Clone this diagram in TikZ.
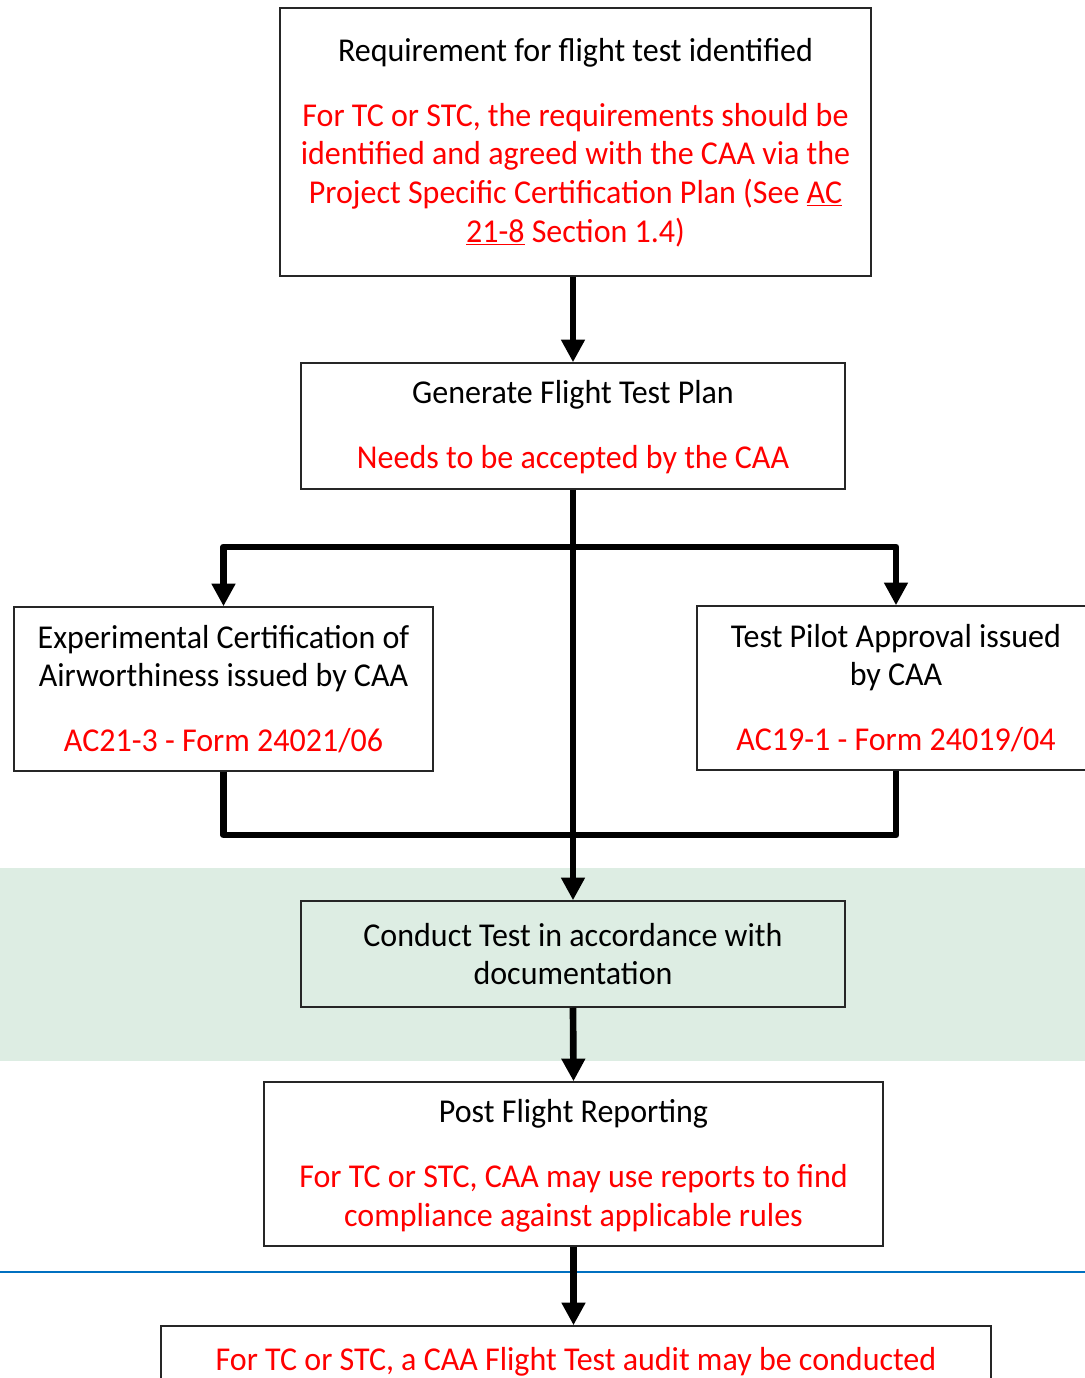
\documentclass[tikz,border=0pt]{standalone}
\usepackage{fontspec}
\setmainfont{Carlito}[FakeStretch=0.96]
\usetikzlibrary{arrows.meta}
\definecolor{bandgreen}{RGB}{221,237,227}
\definecolor{lineblue}{RGB}{0,112,192}
\newcommand\boxfont{\fontsize{25}{29}\selectfont}
\newcommand\shiftlines[2]{\raisebox{#1}[\height][\depth]{\begin{tabular}{@{}c@{}}#2\end{tabular}}}
\tikzset{
  flowbox/.style={draw=black!85, line width=1.1pt, fill=white, align=center, inner sep=0pt, font=\boxfont},
  flowline/.style={line width=5pt, line join=round},
  flowarr/.style={flowline, -{Triangle[width=17pt,length=17pt]}},
}
\begin{document}
\begin{tikzpicture}[x=0.75pt,y=-0.75pt]
\useasboundingbox (0,0) rectangle (1085,1378);
% band and blue line
\fill[bandgreen] (0,868) rectangle (1085,1061);
\draw[lineblue, line width=2.2pt] (0,1272) -- (1085,1272);
% boxes
\node[flowbox, minimum width=443.25pt, minimum height=201pt] (top) at (575.5,142)
 {\shiftlines{-1.5pt}{Requirement for flight test identified\\[19.75pt]
  \color{red}For TC or STC, the requirements should be\\
  \color{red}identified and agreed with the CAA via the\\
  \color{red}Project Specific Certification Plan (See \underline{AC}\\
  \color{red}\underline{21-8} Section 1.4)}};
\node[flowbox, minimum width=408pt, minimum height=94.5pt] (plan) at (573,426)
 {\shiftlines{-2pt}{Generate Flight Test Plan\\[19.75pt]
  \color{red}Needs to be accepted by the CAA}};
\node[flowbox, minimum width=314.25pt, minimum height=123pt] (left) at (223.5,689)
 {Experimental Certification of\\
  Airworthiness issued by CAA\\[19.75pt]
  \color{red}AC21-3 - Form 24021/06};
\node[flowbox, minimum width=298.5pt, minimum height=123pt] (right) at (896,688)
 {Test Pilot Approval issued\\
  by CAA\\[19.75pt]
  \color{red}AC19-1 - Form 24019/04};
\node[flowbox, fill=bandgreen, minimum width=408pt, minimum height=79.5pt] (conduct) at (573,954)
 {Conduct Test in accordance with\\
  documentation};
\node[flowbox, minimum width=464.25pt, minimum height=123pt] (post) at (573.5,1164)
 {\shiftlines{-2.25pt}{Post Flight Reporting\\[19.75pt]
  \color{red}For TC or STC, CAA may use reports to find\\
  \color{red}compliance against applicable rules}};
\node[flowbox, minimum width=622.5pt, minimum height=51pt] (audit) at (576,1360)
 {\shiftlines{-2.25pt}{\color{red}For TC or STC, a CAA Flight Test audit may be conducted}};
% connectors
\coordinate (fork) at (573,547);
\coordinate (join) at (573,835);
\draw[flowarr] (top.south -| plan.north) -- (plan.north);
\draw[flowarr] (plan.south) -- (conduct.north);
\draw[flowarr] (fork) -| (left.north);
\draw[flowarr] (fork) -| (right.north);
\draw[flowline] (left.south) |- (join) -| (right.south);
\draw[flowarr] (conduct.south) -- (post.north);
\draw[flowarr] (post.south) -- (post.south |- audit.north);
\end{tikzpicture}
\end{document}
